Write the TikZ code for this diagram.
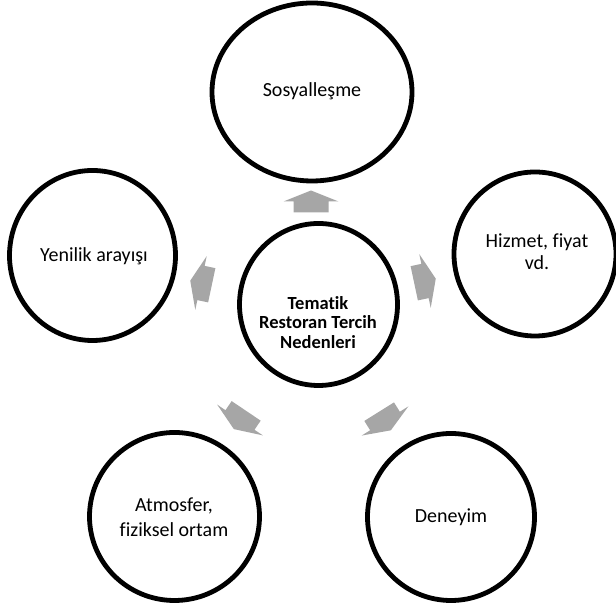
\documentclass[tikz,border=0pt]{standalone}
\usepackage{fontspec}
\setmainfont{Carlito}[Ligatures={NoCommon,NoContextual}, Contextuals=NoAlternate]
\usetikzlibrary{shapes.geometric}
\definecolor{arrowgray}{HTML}{A6A6A6}
\begin{document}
\begin{tikzpicture}[x=1pt,y=1pt,
  bubble/.style={draw=black, line width=4.8pt, ellipse, inner sep=0pt, fill=white},
  lbl/.style={anchor=base, inner sep=0pt, font=\fontsize{20}{24}\selectfont},
  corelbl/.style={anchor=base, inner sep=0pt, font=\fontsize{18.5}{22}\selectfont\bfseries},
  outarrow/.pic={\fill[arrowgray] (-11,-17.5) -- (0,-17.5) -- (0,-27.5) -- (11,0) -- (0,27.5) -- (0,17.5) -- (-11,17.5) -- cycle;}
]
\useasboundingbox (0,0) rectangle (616,609);
% circles
\node[bubble, minimum width=158pt, minimum height=162pt] (core) at (318.5,304.5) {};
\node[bubble, minimum width=200pt, minimum height=178pt] (top) at (312,517) {};
\node[bubble, minimum width=166pt, minimum height=170pt] (left) at (92.5,353.5) {};
\node[bubble, minimum width=162pt, minimum height=164pt] (right) at (535,355) {};
\node[bubble, minimum width=170pt, minimum height=168pt] (bl) at (174.5,92.5) {};
\node[bubble, minimum width=167pt, minimum height=167pt] (br) at (451,92) {};
% arrows
\pic[rotate=90] at (311,407.5) {outarrow};
\pic[rotate=12] at (425,328) {outarrow};
\pic[rotate=168] at (201,326) {outarrow};
\pic[rotate=236] at (240,189) {outarrow};
\pic[rotate=-58] at (385,188) {outarrow};
% texts
\node[corelbl] (c1) at (318,299) {Tematik};
\node[corelbl] (c2) at (318,280) {Restoran Tercih};
\node[corelbl] (c3) at (318,260) {Nedenleri};
\node[lbl] (t1) at (312,512) {Sosyalleşme};
\node[lbl] (l1) at (94,347) {Yenilik arayışı};
\node[lbl] (r1) at (537,361) {Hizmet, fiyat};
\node[lbl] (r2) at (537,339) {vd.};
\node[lbl] (bl1) at (174,97) {Atmosfer,};
\node[lbl] (bl2) at (174,72) {fiziksel ortam};
\node[lbl] (br1) at (451,86) {Deneyim};
\end{tikzpicture}
\end{document}
